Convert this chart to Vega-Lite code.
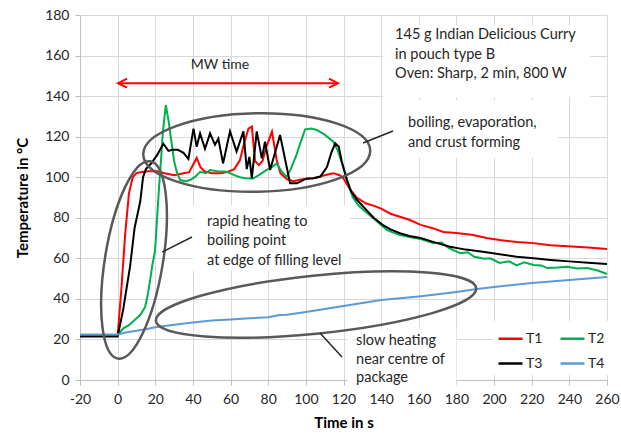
{
  "$schema": "https://vega.github.io/schema/vega-lite/v6.json",
  "width": 527,
  "height": 365,
  "autosize": "none",
  "padding": {"left": 80, "top": 15, "right": 14, "bottom": 58},
  "background": "white",
  "config": {
    "font": "Lato",
    "view": {"stroke": null},
    "axis": {
      "gridColor": "#d9d9d9", "gridWidth": 1, "domainColor": "#bfbfbf", "tickColor": "#bfbfbf",
      "tickSize": 5, "labelFontSize": 14, "labelColor": "#262626", "labelFlush": false, "labelOverlap": false,
      "titleFontSize": 15, "titleFontWeight": "bold", "titleColor": "#000000"
    },
    "axisX": {"labelPadding": 7, "titlePadding": 9},
    "axisY": {"labelPadding": 6, "titlePadding": 14}
  },
  "datasets": {
    "temps": [
      {"series":"T1","t":-20,"temp":22},{"series":"T1","t":-10,"temp":22},{"series":"T1","t":0,"temp":22},{"series":"T1","t":2,"temp":45},{"series":"T1","t":4,"temp":72},{"series":"T1","t":6,"temp":92},{"series":"T1","t":8,"temp":100},{"series":"T1","t":10,"temp":102},{"series":"T1","t":12,"temp":102.5},{"series":"T1","t":16,"temp":103},{"series":"T1","t":21,"temp":103},{"series":"T1","t":25,"temp":102},{"series":"T1","t":30,"temp":101},{"series":"T1","t":35,"temp":102},{"series":"T1","t":38,"temp":102.5},{"series":"T1","t":40,"temp":106},{"series":"T1","t":42,"temp":109.5},{"series":"T1","t":44,"temp":105},{"series":"T1","t":46,"temp":103},{"series":"T1","t":50,"temp":102},{"series":"T1","t":55,"temp":102},{"series":"T1","t":58,"temp":102.5},{"series":"T1","t":62,"temp":104},{"series":"T1","t":65,"temp":108.5},{"series":"T1","t":67,"temp":116},{"series":"T1","t":69.5,"temp":124},{"series":"T1","t":71.3,"temp":125},{"series":"T1","t":73,"temp":108},{"series":"T1","t":75,"temp":106},{"series":"T1","t":77,"temp":108},{"series":"T1","t":79,"temp":115},{"series":"T1","t":82,"temp":122.5},{"series":"T1","t":84.5,"temp":108.5},{"series":"T1","t":86.5,"temp":102},{"series":"T1","t":90,"temp":99},{"series":"T1","t":93.5,"temp":98},{"series":"T1","t":98,"temp":99},{"series":"T1","t":104,"temp":99.5},{"series":"T1","t":110,"temp":101},{"series":"T1","t":114.5,"temp":102},{"series":"T1","t":118,"temp":101},{"series":"T1","t":120,"temp":99.4},{"series":"T1","t":123.5,"temp":94},{"series":"T1","t":127,"temp":90},{"series":"T1","t":132,"temp":87},{"series":"T1","t":136,"temp":86},{"series":"T1","t":140,"temp":84.5},{"series":"T1","t":145,"temp":82},{"series":"T1","t":150,"temp":80.5},{"series":"T1","t":155,"temp":79},{"series":"T1","t":161,"temp":76.5},{"series":"T1","t":167,"temp":75},{"series":"T1","t":173,"temp":73},{"series":"T1","t":180,"temp":72.5},{"series":"T1","t":189,"temp":71.5},{"series":"T1","t":196,"temp":70},{"series":"T1","t":203,"temp":69},{"series":"T1","t":212,"temp":68},{"series":"T1","t":221,"temp":67.5},{"series":"T1","t":230,"temp":66.5},{"series":"T1","t":239,"temp":66},{"series":"T1","t":250,"temp":65.3},{"series":"T1","t":260,"temp":64.6},
      {"series":"T2","t":-20,"temp":22},{"series":"T2","t":-10,"temp":22},{"series":"T2","t":0,"temp":22},{"series":"T2","t":3,"temp":25.5},{"series":"T2","t":6,"temp":27},{"series":"T2","t":9,"temp":29.6},{"series":"T2","t":12,"temp":32},{"series":"T2","t":14.6,"temp":36},{"series":"T2","t":16,"temp":42},{"series":"T2","t":17.2,"temp":49},{"series":"T2","t":18.5,"temp":57},{"series":"T2","t":19.9,"temp":64},{"series":"T2","t":21,"temp":80.5},{"series":"T2","t":22,"temp":95},{"series":"T2","t":23,"temp":108},{"series":"T2","t":24,"temp":122},{"series":"T2","t":25.6,"temp":135.6},{"series":"T2","t":27,"temp":128},{"series":"T2","t":28.5,"temp":118},{"series":"T2","t":30,"temp":108},{"series":"T2","t":31.4,"temp":102.7},{"series":"T2","t":33.2,"temp":98.6},{"series":"T2","t":36,"temp":98},{"series":"T2","t":38.5,"temp":98.6},{"series":"T2","t":41,"temp":100},{"series":"T2","t":43.8,"temp":102.7},{"series":"T2","t":47,"temp":102},{"series":"T2","t":49,"temp":103.5},{"series":"T2","t":53,"temp":103},{"series":"T2","t":58,"temp":102.7},{"series":"T2","t":62,"temp":101},{"series":"T2","t":65,"temp":100},{"series":"T2","t":68,"temp":99.5},{"series":"T2","t":72,"temp":99.4},{"series":"T2","t":75,"temp":101},{"series":"T2","t":79,"temp":103.5},{"series":"T2","t":82,"temp":105},{"series":"T2","t":84.5,"temp":106.8},{"series":"T2","t":87,"temp":103},{"series":"T2","t":89.8,"temp":100.2},{"series":"T2","t":92,"temp":104},{"series":"T2","t":95,"temp":111},{"series":"T2","t":97,"temp":116.7},{"series":"T2","t":99.6,"temp":123.6},{"series":"T2","t":103,"temp":124},{"series":"T2","t":105.8,"temp":123.3},{"series":"T2","t":110,"temp":121},{"series":"T2","t":114.6,"temp":117.5},{"series":"T2","t":117,"temp":113},{"series":"T2","t":119,"temp":107.6},{"series":"T2","t":122.5,"temp":97},{"series":"T2","t":125,"temp":90},{"series":"T2","t":128,"temp":86},{"series":"T2","t":133,"temp":82},{"series":"T2","t":138,"temp":78},{"series":"T2","t":143,"temp":74},{"series":"T2","t":146,"temp":72.8},{"series":"T2","t":150,"temp":71.5},{"series":"T2","t":155,"temp":70.5},{"series":"T2","t":161,"temp":69.5},{"series":"T2","t":168,"temp":67.5},{"series":"T2","t":172,"temp":67.8},{"series":"T2","t":176,"temp":65},{"series":"T2","t":182,"temp":62.5},{"series":"T2","t":186,"temp":63},{"series":"T2","t":189.5,"temp":60.8},{"series":"T2","t":195,"temp":59.8},{"series":"T2","t":198,"temp":60},{"series":"T2","t":203,"temp":57.7},{"series":"T2","t":208,"temp":58.5},{"series":"T2","t":212,"temp":56.5},{"series":"T2","t":216,"temp":58},{"series":"T2","t":221,"temp":56.7},{"series":"T2","t":225,"temp":56.5},{"series":"T2","t":228.4,"temp":55.2},{"series":"T2","t":234,"temp":55.5},{"series":"T2","t":239,"temp":55.9},{"series":"T2","t":244,"temp":55},{"series":"T2","t":249.5,"temp":55.2},{"series":"T2","t":255,"temp":54},{"series":"T2","t":260,"temp":52.3},
      {"series":"T3","t":-20,"temp":21.5},{"series":"T3","t":-10,"temp":21.5},{"series":"T3","t":0,"temp":21.5},{"series":"T3","t":3,"temp":35},{"series":"T3","t":6.6,"temp":56},{"series":"T3","t":9,"temp":75},{"series":"T3","t":12,"temp":88},{"series":"T3","t":13.5,"temp":100},{"series":"T3","t":15,"temp":104},{"series":"T3","t":18,"temp":107},{"series":"T3","t":21,"temp":111},{"series":"T3","t":24.3,"temp":116.5},{"series":"T3","t":27,"temp":113},{"series":"T3","t":29,"temp":113.5},{"series":"T3","t":32,"temp":113.5},{"series":"T3","t":35,"temp":112},{"series":"T3","t":37.6,"temp":109},{"series":"T3","t":40.3,"temp":124},{"series":"T3","t":42,"temp":115},{"series":"T3","t":43.8,"temp":121.6},{"series":"T3","t":46.4,"temp":114},{"series":"T3","t":49.1,"temp":121.6},{"series":"T3","t":51.7,"temp":116},{"series":"T3","t":53.5,"temp":119},{"series":"T3","t":56,"temp":106.8},{"series":"T3","t":59.7,"temp":122.6},{"series":"T3","t":63.2,"temp":112.6},{"series":"T3","t":66.8,"temp":122.6},{"series":"T3","t":68.6,"temp":104},{"series":"T3","t":70,"temp":110},{"series":"T3","t":71.3,"temp":99.4},{"series":"T3","t":73.9,"temp":122.6},{"series":"T3","t":76.6,"temp":109.3},{"series":"T3","t":78.3,"temp":117.5},{"series":"T3","t":81,"temp":103.6},{"series":"T3","t":86.3,"temp":120.8},{"series":"T3","t":91.6,"temp":97},{"series":"T3","t":95.2,"temp":97},{"series":"T3","t":100.5,"temp":99.4},{"series":"T3","t":104,"temp":99.5},{"series":"T3","t":107.6,"temp":100.2},{"series":"T3","t":111.2,"temp":105},{"series":"T3","t":113.5,"temp":112},{"series":"T3","t":115.6,"temp":116.7},{"series":"T3","t":117.5,"temp":115},{"series":"T3","t":119,"temp":108},{"series":"T3","t":121.8,"temp":98.6},{"series":"T3","t":124,"temp":93},{"series":"T3","t":127,"temp":89},{"series":"T3","t":132,"temp":84},{"series":"T3","t":136,"temp":80},{"series":"T3","t":141,"temp":76.4},{"series":"T3","t":145,"temp":74.3},{"series":"T3","t":150,"temp":72.4},{"series":"T3","t":155,"temp":71},{"series":"T3","t":161,"temp":70},{"series":"T3","t":168,"temp":68},{"series":"T3","t":176.6,"temp":65.7},{"series":"T3","t":185,"temp":64.3},{"series":"T3","t":194,"temp":63.3},{"series":"T3","t":203,"temp":62},{"series":"T3","t":212,"temp":60.8},{"series":"T3","t":221,"temp":60},{"series":"T3","t":230,"temp":59.2},{"series":"T3","t":240,"temp":58.5},{"series":"T3","t":250,"temp":57.8},{"series":"T3","t":260,"temp":57.2},
      {"series":"T4","t":-20,"temp":22.5},{"series":"T4","t":-10,"temp":22.5},{"series":"T4","t":0,"temp":22.5},{"series":"T4","t":5,"temp":23.5},{"series":"T4","t":10,"temp":24.3},{"series":"T4","t":15,"temp":25},{"series":"T4","t":20,"temp":26},{"series":"T4","t":30,"temp":27.3},{"series":"T4","t":40,"temp":28.3},{"series":"T4","t":50,"temp":29.3},{"series":"T4","t":60,"temp":29.8},{"series":"T4","t":70,"temp":30.4},{"series":"T4","t":80,"temp":31},{"series":"T4","t":86,"temp":32},{"series":"T4","t":90,"temp":32.2},{"series":"T4","t":100,"temp":33.5},{"series":"T4","t":110,"temp":35},{"series":"T4","t":120,"temp":36.5},{"series":"T4","t":130,"temp":38},{"series":"T4","t":140,"temp":39.4},{"series":"T4","t":150,"temp":40.3},{"series":"T4","t":160,"temp":41.2},{"series":"T4","t":170,"temp":42.3},{"series":"T4","t":180,"temp":43.4},{"series":"T4","t":190,"temp":44.7},{"series":"T4","t":200,"temp":45.9},{"series":"T4","t":210,"temp":46.9},{"series":"T4","t":220,"temp":47.8},{"series":"T4","t":230,"temp":48.6},{"series":"T4","t":240,"temp":49.3},{"series":"T4","t":250,"temp":50},{"series":"T4","t":260,"temp":50.8}
    ],
    "boxes": [
      {"t":141,"t2":251,"temp":139.5,"temp2":175},
      {"t":141,"t2":234,"temp":109.5,"temp2":138},
      {"t":40,"t2":123.5,"temp":54,"temp2":86},
      {"t":122,"t2":180,"temp":-3,"temp2":25}
    ],
    "pointers": [
      {"t":130.4,"temp":116.9,"t2":146.3,"temp2":122.8},
      {"t":23.6,"temp":63.1,"t2":39.5,"temp2":70.5},
      {"t":107.5,"temp":23.2,"t2":119.2,"temp2":11.3}
    ],
    "notes": [
      {"label":"145 g Indian Delicious Curry","t":147.4,"temp":170.1},
      {"label":"in pouch type B","t":147.4,"temp":160.3},
      {"label":"Oven: Sharp, 2 min, 800 W","t":147.4,"temp":150.9},
      {"label":"boiling, evaporation,","t":154.3,"temp":126.7},
      {"label":"and crust forming","t":154.3,"temp":116.9},
      {"label":"rapid heating to","t":47.5,"temp":77.9},
      {"label":"boiling point","t":47.5,"temp":68.5},
      {"label":"at edge of filling level","t":47.5,"temp":58.7},
      {"label":"slow heating","t":126.7,"temp":19.2},
      {"label":"near centre of","t":126.7,"temp":9.9},
      {"label":"package","t":126.7,"temp":1}
    ]
  },
  "layer": [
    {
      "data": {"name": "boxes"},
      "mark": {"type": "rect", "fill": "white", "stroke": null},
      "encoding": {
        "x": {"field": "t", "type": "quantitative", "scale": {"domain": [-20, 260], "nice": false, "zero": false}},
        "x2": {"field": "t2"},
        "y": {"field": "temp", "type": "quantitative", "scale": {"domain": [0, 180], "nice": false, "zero": false}},
        "y2": {"field": "temp2"}
      }
    },
    {
      "data": {"name": "temps"},
      "mark": {"type": "line", "strokeWidth": 2},
      "encoding": {
        "x": {"field": "t", "type": "quantitative", "scale": {"domain": [-20, 260], "nice": false, "zero": false},
              "axis": {"title": "Time in s", "values": [-20,0,20,40,60,80,100,120,140,160,180,200,220,240,260], "tickCount": 30, "grid": true, "labelOverlap": false, "labelExpr": "datum.value < 0 ? '-' + abs(datum.value) : datum.label"}},
        "y": {"field": "temp", "type": "quantitative", "scale": {"domain": [0, 180], "nice": false, "zero": false},
              "axis": {"title": "Temperature in °C", "values": [0,20,40,60,80,100,120,140,160,180], "tickCount": 20, "grid": true, "labelOverlap": false}},
        "color": {"field": "series", "type": "nominal",
                  "scale": {"domain": ["T1","T2","T3","T4"], "range": ["#ff0000","#00b050","#000000","#5b9bd5"]},
                  "legend": {"orient": "none", "legendX": 413, "legendY": 306, "columns": 2, "direction": "horizontal", "title": null,
                             "symbolType": "stroke", "symbolSize": 576, "symbolStrokeWidth": 2.5,
                             "labelFontSize": 14, "labelOffset": 2, "columnPadding": 12, "rowPadding": 4,
                             "fillColor": "white", "padding": 4, "labelColor": "#262626"}}
      }
    },
    {
      "data": {"values": [{"t": 0.6, "temp": 146.4, "t2": 116.6}]},
      "mark": {"type": "rule", "color": "#ff0000", "strokeWidth": 2},
      "encoding": {
        "x": {"field": "t", "type": "quantitative", "scale": {"domain": [-20, 260], "nice": false, "zero": false}},
        "x2": {"field": "t2"},
        "y": {"field": "temp", "type": "quantitative", "scale": {"domain": [0, 180], "nice": false, "zero": false}}
      }
    },
    {
      "data": {"values": [{"t": 0.2, "temp": 146.4}]},
      "mark": {"type": "point", "shape": "M 2 -1 L 0 0 L 2 1", "size": 81, "filled": false, "stroke": "#ff0000", "strokeWidth": 2, "opacity": 1},
      "encoding": {
        "x": {"field": "t", "type": "quantitative", "scale": {"domain": [-20, 260], "nice": false, "zero": false}},
        "y": {"field": "temp", "type": "quantitative", "scale": {"domain": [0, 180], "nice": false, "zero": false}}
      }
    },
    {
      "data": {"values": [{"t": 117.1, "temp": 146.4}]},
      "mark": {"type": "point", "shape": "M -2 -1 L 0 0 L -2 1", "size": 81, "filled": false, "stroke": "#ff0000", "strokeWidth": 2, "opacity": 1},
      "encoding": {
        "x": {"field": "t", "type": "quantitative", "scale": {"domain": [-20, 260], "nice": false, "zero": false}},
        "y": {"field": "temp", "type": "quantitative", "scale": {"domain": [0, 180], "nice": false, "zero": false}}
      }
    },
    {
      "data": {"values": [{"t": 73.9, "temp": 112.2}]},
      "mark": {"type": "point", "shape": "M -1 0 A 1 0.346 0 1 1 1 0 A 1 0.346 0 1 1 -1 0 Z", "size": 51529, "angle": -1, "filled": false, "stroke": "#595959", "strokeWidth": 2.5, "opacity": 1},
      "encoding": {
        "x": {"field": "t", "type": "quantitative", "scale": {"domain": [-20, 260], "nice": false, "zero": false}},
        "y": {"field": "temp", "type": "quantitative", "scale": {"domain": [0, 180], "nice": false, "zero": false}}
      }
    },
    {
      "data": {"values": [{"t": 8.7, "temp": 59.2}]},
      "mark": {"type": "point", "shape": "M -1 0 A 1 0.29 0 1 1 1 0 A 1 0.29 0 1 1 -1 0 Z", "size": 40000, "angle": 99.3, "filled": false, "stroke": "#595959", "strokeWidth": 2.5, "opacity": 1},
      "encoding": {
        "x": {"field": "t", "type": "quantitative", "scale": {"domain": [-20, 260], "nice": false, "zero": false}},
        "y": {"field": "temp", "type": "quantitative", "scale": {"domain": [0, 180], "nice": false, "zero": false}}
      }
    },
    {
      "data": {"values": [{"t": 105.4, "temp": 37.2}]},
      "mark": {"type": "point", "shape": "M -1 0 A 1 0.18 0 1 1 1 0 A 1 0.18 0 1 1 -1 0 Z", "size": 103684, "angle": -5.85, "filled": false, "stroke": "#595959", "strokeWidth": 2.5, "opacity": 1},
      "encoding": {
        "x": {"field": "t", "type": "quantitative", "scale": {"domain": [-20, 260], "nice": false, "zero": false}},
        "y": {"field": "temp", "type": "quantitative", "scale": {"domain": [0, 180], "nice": false, "zero": false}}
      }
    },
    {
      "data": {"name": "pointers"},
      "mark": {"type": "rule", "color": "#262626", "strokeWidth": 1.5},
      "encoding": {
        "x": {"field": "t", "type": "quantitative", "scale": {"domain": [-20, 260], "nice": false, "zero": false}},
        "x2": {"field": "t2"},
        "y": {"field": "temp", "type": "quantitative", "scale": {"domain": [0, 180], "nice": false, "zero": false}},
        "y2": {"field": "temp2"}
      }
    },
    {
      "data": {"values": [{"label": "MW time", "t": 54.4, "temp": 155.3}]},
      "mark": {"type": "text", "align": "center", "baseline": "middle", "fontSize": 14, "color": "#262626"},
      "encoding": {
        "x": {"field": "t", "type": "quantitative", "scale": {"domain": [-20, 260], "nice": false, "zero": false}},
        "y": {"field": "temp", "type": "quantitative", "scale": {"domain": [0, 180], "nice": false, "zero": false}},
        "text": {"field": "label"}
      }
    },
    {
      "data": {"name": "notes"},
      "mark": {"type": "text", "align": "left", "baseline": "middle", "fontSize": 14.5, "color": "#262626"},
      "encoding": {
        "x": {"field": "t", "type": "quantitative", "scale": {"domain": [-20, 260], "nice": false, "zero": false}},
        "y": {"field": "temp", "type": "quantitative", "scale": {"domain": [0, 180], "nice": false, "zero": false}},
        "text": {"field": "label"}
      }
    }
  ]
}
